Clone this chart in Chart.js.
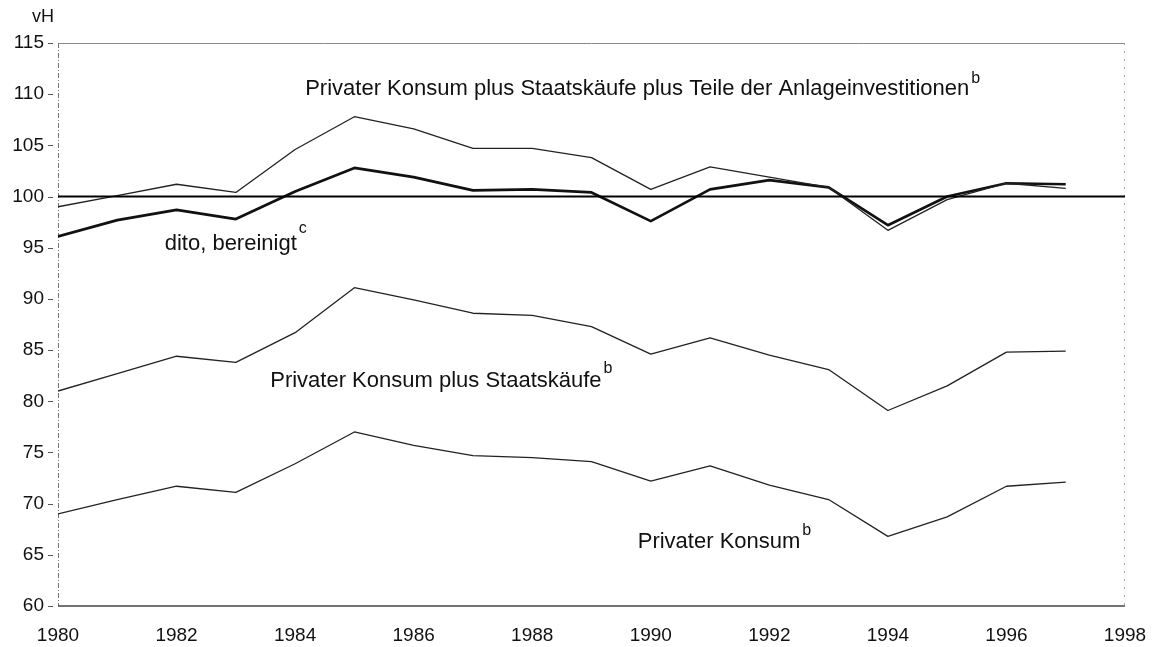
<!DOCTYPE html>
<html>
<head>
<meta charset="utf-8">
<script src="https://cdn.jsdelivr.net/npm/chart.js@4.4.1/dist/chart.umd.min.js"></script>
<style>
  html, body { margin: 0; padding: 0; background: #ffffff; }
  #wrap { width: 1156px; height: 647px; position: relative; }
</style>
</head>
<body>
<div id="wrap"><canvas id="c" width="1156" height="647"></canvas></div>
<script>
// ---- data ----
const years = [1980, 1981, 1982, 1983, 1984, 1985, 1986, 1987, 1988, 1989, 1990, 1991, 1992, 1993, 1994, 1995, 1996, 1997];
const konsumStaatAnlage = [99.0, 100.1, 101.2, 100.4, 104.6, 107.8, 106.6, 104.7, 104.7, 103.8, 100.7, 102.9, 101.9, 100.9, 96.7, 99.7, 101.3, 100.8];
const ditoBereinigt     = [96.1, 97.7, 98.7, 97.8, 100.5, 102.8, 101.9, 100.6, 100.7, 100.4, 97.6, 100.7, 101.6, 100.9, 97.2, 100.0, 101.3, 101.2];
const konsumStaat       = [81.0, 82.7, 84.4, 83.8, 86.7, 91.1, 89.9, 88.6, 88.4, 87.3, 84.6, 86.2, 84.5, 83.1, 79.1, 81.5, 84.8, 84.9];
const privaterKonsum    = [69.0, 70.4, 71.7, 71.1, 73.9, 77.0, 75.7, 74.7, 74.5, 74.1, 72.2, 73.7, 71.8, 70.4, 66.8, 68.7, 71.7, 72.1];
const referenceLevel = 100;
const xTickLabels = [1980, 1982, 1984, 1986, 1988, 1990, 1992, 1994, 1996, 1998];
const yTickLabels = [60, 65, 70, 75, 80, 85, 90, 95, 100, 105, 110, 115];
const seriesLabels = [
  { text: 'Privater Konsum plus Staatskäufe plus Teile der Anlageinvestitionen', sup: 'b' },
  { text: 'dito, bereinigt', sup: 'c' },
  { text: 'Privater Konsum plus Staatskäufe', sup: 'b' },
  { text: 'Privater Konsum', sup: 'b' }
];
const unitLabel = 'vH';

const FONT = '"Liberation Sans", Arial, Helvetica, sans-serif';
const toXY = arr => arr.map((v, i) => ({ x: years[i], y: v }));

// label anchors (in data units) for the inline series names
const labelAnchors = [
  { x: 1984.17, y: 109.88, supDy: -12 },
  { x: 1981.80, y: 94.81, supDy: -17 },
  { x: 1983.58, y: 81.41, supDy: -14 },
  { x: 1989.78, y: 65.66, supDy: -13 }
];

const framePlugin = {
  id: 'frame',
  beforeDatasetsDraw(chart) {
    const { ctx, chartArea: a } = chart;
    const ys = chart.scales.y;
    ctx.save();
    ctx.strokeStyle = '#8a8a8a'; ctx.lineWidth = 1;
    ctx.beginPath(); ctx.moveTo(a.left, a.top + 0.5); ctx.lineTo(a.right, a.top + 0.5); ctx.stroke();
    ctx.strokeStyle = '#777'; ctx.setLineDash([5, 2, 1, 2]);
    ctx.beginPath(); ctx.moveTo(a.left + 0.5, a.top); ctx.lineTo(a.left + 0.5, a.bottom); ctx.stroke();
    ctx.strokeStyle = '#aaa'; ctx.setLineDash([2, 6]);
    ctx.beginPath(); ctx.moveTo(a.right - 0.5, a.top); ctx.lineTo(a.right - 0.5, a.bottom); ctx.stroke();
    ctx.setLineDash([]);
    ctx.strokeStyle = '#444'; ctx.lineWidth = 1.6;
    ctx.beginPath(); ctx.moveTo(a.left, a.bottom); ctx.lineTo(a.right, a.bottom); ctx.stroke();
    ctx.strokeStyle = '#555'; ctx.lineWidth = 1;
    ys.ticks.forEach(t => {
      const py = Math.round(ys.getPixelForValue(t.value)) + 0.5;
      ctx.beginPath(); ctx.moveTo(a.left - 10, py); ctx.lineTo(a.left - 5, py); ctx.stroke();
    });
    ctx.restore();
  },
  afterDatasetsDraw(chart) {
    const { ctx } = chart;
    const xs = chart.scales.x, ys = chart.scales.y;
    ctx.save();
    ctx.fillStyle = '#111';
    ctx.textBaseline = 'alphabetic';
    ctx.textAlign = 'left';
    seriesLabels.forEach((l, i) => {
      const an = labelAnchors[i];
      const px = xs.getPixelForValue(an.x), py = ys.getPixelForValue(an.y);
      ctx.font = '22px ' + FONT;
      ctx.fillText(l.text, px, py);
      const w = ctx.measureText(l.text).width;
      ctx.font = '16px ' + FONT;
      ctx.fillText(l.sup, px + w + 2, py + an.supDy);
    });
    ctx.font = '18px ' + FONT;
    ctx.fillText(unitLabel, 32, 22);
    ctx.restore();
  }
};

new Chart(document.getElementById('c'), {
  type: 'line',
  data: {
    datasets: [
      { label: 'ref', data: [{ x: 1980, y: referenceLevel }, { x: 1998, y: referenceLevel }], borderColor: '#000', borderWidth: 2, pointRadius: 0 },
      { label: seriesLabels[0].text, data: toXY(konsumStaatAnlage), borderColor: '#222', borderWidth: 1.3, pointRadius: 0 },
      { label: seriesLabels[1].text, data: toXY(ditoBereinigt), borderColor: '#111', borderWidth: 2.7, pointRadius: 0 },
      { label: seriesLabels[2].text, data: toXY(konsumStaat), borderColor: '#222', borderWidth: 1.3, pointRadius: 0 },
      { label: seriesLabels[3].text, data: toXY(privaterKonsum), borderColor: '#222', borderWidth: 1.3, pointRadius: 0 }
    ]
  },
  options: {
    responsive: false,
    animation: false,
    layout: { padding: { top: 43, right: 31, bottom: 0, left: 0 } },
    plugins: { legend: { display: false }, tooltip: { enabled: false } },
    elements: { line: { tension: 0, borderJoinStyle: 'round' } },
    scales: {
      x: {
        type: 'linear', min: 1980, max: 1998,
        afterBuildTicks: s => { s.ticks = xTickLabels.map(v => ({ value: v })); },
        afterFit: s => { s.height = 41; s.paddingLeft = 0; s.paddingRight = 0; },
        grid: { display: false, drawTicks: false },
        border: { display: false },
        ticks: { color: '#111', font: { family: FONT, size: 19 }, padding: 18, maxRotation: 0, autoSkip: false,
                 callback: v => String(v) }
      },
      y: {
        min: 60, max: 115,
        afterBuildTicks: s => { s.ticks = yTickLabels.map(v => ({ value: v })); },
        afterFit: s => { s.width = 58; s.paddingTop = 0; s.paddingBottom = 0; },
        grid: { display: false, drawTicks: false },
        border: { display: false },
        ticks: { color: '#111', font: { family: FONT, size: 19 }, padding: 14, autoSkip: false }
      }
    }
  },
  plugins: [framePlugin]
});
</script>
</body>
</html>
